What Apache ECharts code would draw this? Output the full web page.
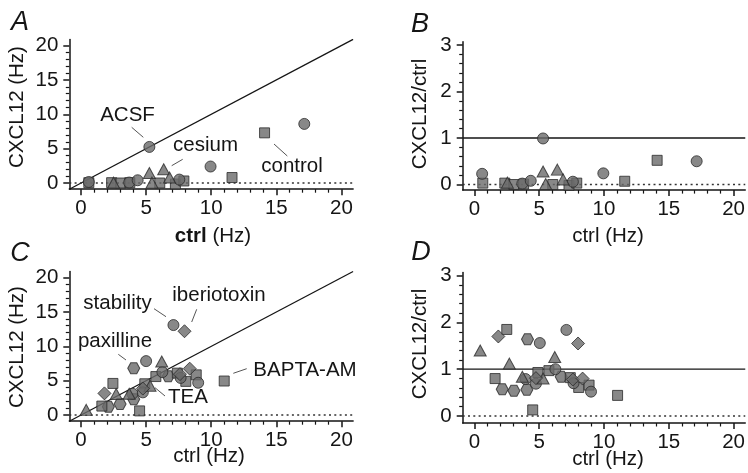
<!DOCTYPE html>
<html>
<head>
<meta charset="utf-8">
<script src="https://cdn.jsdelivr.net/npm/echarts@6/dist/echarts.min.js"></script>
<style>
  html, body { margin: 0; padding: 0; background: #fff; }
  #chart { width: 748px; height: 473px; }
</style>
</head>
<body>
<div id="chart"></div>
<script>
// tick values
const rateTicks = [0, 5, 10, 15, 20]
const rateMinor = [1, 2, 3, 4, 6, 7, 8, 9, 11, 12, 13, 14, 16, 17, 18, 19]
const ratioTicks = [0, 1, 2, 3]
const ratioMinor = [0.2, 0.4, 0.6, 0.8, 1.2, 1.4, 1.6, 1.8, 2.2, 2.4, 2.6, 2.8]

// panel A: CXCL12 (Hz) vs ctrl (Hz)
const aCircle = [[0.6, 0.15], [3.7, 0.07], [4.35, 0.4], [5.25, 5.25], [7.55, 0.5], [9.95, 2.4], [17.15, 8.6]]
const aSquare = [[0.6, 0.05], [2.35, 0.05], [3.05, 0.0], [3.75, 0.05], [6.05, 0.0], [7.25, -0.15], [7.9, 0.3], [11.6, 0.8], [14.1, 7.3]]
const aTriangle = [[2.5, 0.05], [5.25, 1.45], [5.45, 0.05], [6.35, 2.0], [6.8, 0.8]]

// panel B: CXCL12/ctrl vs ctrl (Hz)
const bCircle = [[0.6, 0.23], [3.7, 0.02], [4.35, 0.08], [5.3, 0.99], [7.6, 0.06], [9.95, 0.24], [17.15, 0.5]]
const bSquare = [[0.65, 0.03], [2.35, 0.03], [3.05, 0.0], [3.8, 0.01], [6.05, 0.0], [7.3, -0.02], [7.9, 0.03], [11.6, 0.07], [14.1, 0.52]]
const bTriangle = [[2.55, 0.04], [5.3, 0.28], [5.5, 0.01], [6.4, 0.32], [6.85, 0.11]]

// panel C: CXCL12 (Hz) vs ctrl (Hz)
const cCircle = [[7.1, 13.1], [5.0, 7.85], [6.25, 6.25], [3.95, 3.1], [4.75, 3.3], [7.65, 5.4], [9.0, 4.7]]
const cSquare = [[2.45, 4.6], [1.6, 1.3], [5.75, 5.6], [4.5, 0.6], [4.9, 4.55], [7.4, 6.1], [8.05, 4.9], [8.85, 5.85], [11.0, 4.95]]
const cTriangle = [[0.4, 0.75], [2.7, 3.05], [6.2, 7.8], [3.7, 3.1], [5.3, 4.25]]
const cDiamond = [[1.8, 3.15], [7.95, 12.2], [4.75, 3.85], [7.6, 5.95], [8.35, 6.75]]
const cHexagon = [[2.1, 1.2], [3.0, 1.6], [4.05, 6.8], [6.7, 5.65], [4.05, 2.3]]

// panel D: CXCL12/ctrl vs ctrl (Hz)
const dCircle = [[7.1, 1.84], [5.05, 1.56], [6.25, 1.0], [3.95, 0.79], [4.75, 0.69], [7.65, 0.7], [9.0, 0.52]]
const dSquare = [[2.5, 1.85], [1.6, 0.8], [5.75, 0.97], [4.5, 0.13], [4.9, 0.93], [7.4, 0.82], [8.05, 0.61], [8.85, 0.66], [11.05, 0.44]]
const dTriangle = [[0.45, 1.4], [2.7, 1.12], [6.2, 1.26], [3.7, 0.84], [5.3, 0.8]]
const dDiamond = [[1.85, 1.7], [8.0, 1.55], [4.75, 0.81], [7.6, 0.78], [8.35, 0.8]]
const dHexagon = [[2.15, 0.57], [3.05, 0.54], [4.1, 1.64], [6.7, 0.84], [4.05, 0.56]]

const rateRange = [-0.9, 20.9]
const ratioRangeB = [-0.12, 3.07]
const ratioRangeD = [-0.15, 3.07]

const FONT = "Liberation Sans, Arial, Helvetica, sans-serif"
const FS = 20.5
const INK = "#151515"
const HEX = "path://M0,433L250,0L750,0L1000,433L750,866L250,866Z"

const chart = echarts.init(document.getElementById("chart"), null, { renderer: "canvas" })

const grids = [
  { left: 69.3, top: 39.4, width: 283.8, height: 149.8 },
  { left: 462.7, top: 41.7, width: 285.6, height: 148.4 },
  { left: 69.3, top: 271.5, width: 283.8, height: 149.7 },
  { left: 462.7, top: 272.4, width: 285.6, height: 150.6 },
]

const xAxes = []
const yAxes = []

function addAxes(list, dim, gridIndex, range, major, minor) {
  const pos = dim === "x" ? "bottom" : "left"
  // major ticks + labels + axis line
  list.push({
    type: "value",
    gridIndex,
    position: pos,
    min: range[0],
    max: range[1],
    axisLine: { show: true, onZero: false, lineStyle: { color: INK, width: 1.5 } },
    axisTick: { show: true, customValues: major, length: 6, lineStyle: { color: INK, width: 1.5 } },
    axisLabel: { customValues: major, fontSize: FS, color: INK, fontFamily: FONT, margin: dim === "x" ? 9 : 11 },
    splitLine: { show: false },
  })
  // minor ticks only
  list.push({
    type: "value",
    gridIndex,
    position: pos,
    min: range[0],
    max: range[1],
    axisLine: { show: false, onZero: false },
    axisTick: { show: true, customValues: minor, length: 3.5, lineStyle: { color: INK, width: 1.2 } },
    axisLabel: { show: false },
    splitLine: { show: false },
  })
  return list.length - 2
}

const panels = [
  { y: rateRange, yMajor: rateTicks, yMinor: rateMinor },
  { y: ratioRangeB, yMajor: ratioTicks, yMinor: ratioMinor },
  { y: rateRange, yMajor: rateTicks, yMinor: rateMinor },
  { y: ratioRangeD, yMajor: ratioTicks, yMinor: ratioMinor },
]
panels.forEach((p, i) => {
  p.xi = addAxes(xAxes, "x", i, rateRange, rateTicks, rateMinor)
  p.yi = addAxes(yAxes, "y", i, p.y, p.yMajor, p.yMinor)
})

const markerStyle = { color: "#6a6a6a", borderColor: "#2b2b2b", borderWidth: 1 }

function scatter(panel, data, symbol, size) {
  return {
    type: "scatter",
    xAxisIndex: panel.xi,
    yAxisIndex: panel.yi,
    data,
    symbol,
    symbolSize: size,
    itemStyle: markerStyle,
    silent: true,
    z: 3,
  }
}

function refLine(panel, data, dotted) {
  return {
    type: "line",
    xAxisIndex: panel.xi,
    yAxisIndex: panel.yi,
    data,
    symbol: "none",
    silent: true,
    lineStyle: dotted
      ? { color: "#333", width: 1.3, type: [2, 3.3] }
      : { color: INK, width: 1.3 },
    z: 2,
  }
}

const [pA, pB, pC, pD] = panels
const lo = rateRange[0], hi = rateRange[1]

const CIRC = 11, SQ = 10, TRI = [12, 11], DIA = [13, 13], HX = [12, 11]

const series = [
  refLine(pA, [[lo, lo], [hi, hi]]),
  refLine(pA, [[lo, 0], [hi, 0]], true),
  scatter(pA, aSquare, "rect", SQ),
  scatter(pA, aCircle, "circle", CIRC),
  scatter(pA, aTriangle, "triangle", TRI),

  refLine(pB, [[lo, 1], [hi, 1]]),
  refLine(pB, [[lo, 0], [hi, 0]], true),
  scatter(pB, bSquare, "rect", SQ),
  scatter(pB, bCircle, "circle", CIRC),
  scatter(pB, bTriangle, "triangle", TRI),

  refLine(pC, [[lo, lo], [hi, hi]]),
  refLine(pC, [[lo, 0], [hi, 0]], true),
  scatter(pC, cHexagon, HEX, HX),
  scatter(pC, cSquare, "rect", SQ),
  scatter(pC, cCircle, "circle", CIRC),
  scatter(pC, cTriangle, "triangle", TRI),
  scatter(pC, cDiamond, "diamond", DIA),

  refLine(pD, [[lo, 1], [hi, 1]]),
  refLine(pD, [[lo, 0], [hi, 0]], true),
  scatter(pD, dHexagon, HEX, HX),
  scatter(pD, dSquare, "rect", SQ),
  scatter(pD, dCircle, "circle", CIRC),
  scatter(pD, dTriangle, "triangle", TRI),
  scatter(pD, dDiamond, "diamond", DIA),
]

function txt(text, x, y, size, extra) {
  return {
    type: "text",
    x,
    y,
    silent: true,
    style: Object.assign({
      text,
      fill: INK,
      font: size + "px " + FONT,
      align: "center",
      verticalAlign: "middle",
    }, extra || {}),
  }
}
function vtxt(text, x, y) {
  const t = txt(text, x, y, FS)
  t.rotation = Math.PI / 2
  return t
}
function leader(x1, y1, x2, y2) {
  return {
    type: "line",
    silent: true,
    shape: { x1, y1, x2, y2 },
    style: { stroke: "#555", lineWidth: 1 },
  }
}
const letter = (t, x, y) => txt(t, x, y, 27, { font: "italic 27px " + FONT })

const graphic = [
  letter("A", 20, 22),
  letter("B", 420, 24),
  letter("C", 20, 253),
  letter("D", 421, 252),

  vtxt("CXCL12 (Hz)", 17, 107),
  vtxt("CXCL12/ctrl", 420, 114),
  vtxt("CXCL12 (Hz)", 17, 347),
  vtxt("CXCL12/ctrl", 420, 344),

  txt("{b|ctrl} (Hz)", 213, 236, FS, { rich: { b: { fontWeight: "bold", fontSize: FS, fontFamily: FONT } } }),
  txt("ctrl (Hz)", 608, 236, FS),
  txt("ctrl (Hz)", 209, 456, FS),
  txt("ctrl (Hz)", 608, 459, FS),

  // panel A labels
  txt("ACSF", 127.5, 115.5, FS),
  leader(131.7, 127.3, 143.3, 137.3),
  txt("cesium", 205.5, 145, FS),
  leader(182.7, 159.3, 171.7, 165.7),
  txt("control", 292, 166, FS),
  leader(274, 144, 287.3, 156),

  // panel C labels
  txt("stability", 117.5, 303, FS),
  leader(154, 308.7, 166, 316.7),
  txt("iberiotoxin", 219, 295, FS),
  leader(196.7, 309.3, 191.7, 322),
  txt("paxilline", 115, 341, FS),
  leader(118.3, 354.3, 126, 360),
  txt("TEA", 188, 397.5, FS),
  leader(165, 396, 155, 387.7),
  txt("BAPTA-AM", 305, 370, FS),
  leader(233.3, 373.3, 246.7, 368.7),
]

chart.setOption({
  backgroundColor: "#fff",
  animation: false,
  grid: grids,
  xAxis: xAxes,
  yAxis: yAxes,
  series,
  graphic,
})
</script>
</body>
</html>
